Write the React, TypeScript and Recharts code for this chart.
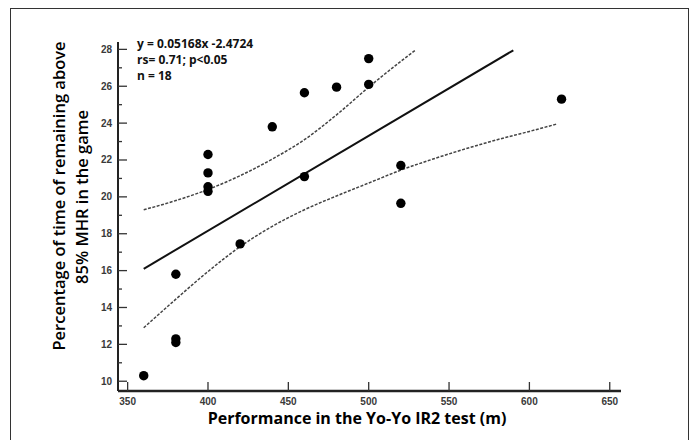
import { ScatterChart, Scatter, XAxis, YAxis } from 'recharts';

// Yo-Yo IR2 distance (m) vs % time above 85% MHR
const perfX = [400, 400, 400, 400, 440, 460, 460, 480, 500, 500, 520, 520, 620, 420, 380, 380, 380, 360];
const timeY = [22.3, 21.3, 20.55, 20.3, 23.8, 25.65, 21.1, 25.95, 27.5, 26.1, 21.7, 19.65, 25.3, 17.45, 15.8, 12.3, 12.1, 10.3];

// regression line
const fitX = [360, 590];
const fitY = [16.1, 27.95];

// confidence bands
const upperX = [360, 380, 400, 420, 440, 460, 480, 500, 520, 529];
const upperY = [19.3, 19.8, 20.4, 21.15, 22.05, 23.1, 24.45, 25.95, 27.35, 27.95];
const lowerX = [360, 380, 400, 420, 440, 460, 480, 500, 520, 540, 560, 580, 600, 617];
const lowerY = [12.9, 14.45, 15.95, 17.3, 18.4, 19.3, 20.05, 20.75, 21.45, 22.05, 22.6, 23.1, 23.55, 23.95];

const xTicks = [350, 400, 450, 500, 550, 600, 650];
const yTicks = [10, 12, 14, 16, 18, 20, 22, 24, 26, 28];
const yMinorTicks = [11, 13, 15, 17, 19, 21, 23, 25, 27];

const toPts = (xs: number[], ys: number[]) => xs.map((x, i) => ({ x, y: ys[i] }));

const points = toPts(perfX, timeY);
const fit = toPts(fitX, fitY);
const upper = toPts(upperX, upperY);
const lower = toPts(lowerX, lowerY);

const tickFont = { fontFamily: '"Liberation Sans", Arial, sans-serif', fontSize: 10, fontWeight: 700, fill: '#3a3a3a' };

const XTick = (props: any) => {
  const { x, y, payload } = props;
  return (
    <g>
      <line x1={x} x2={x} y1={y} y2={y - 9} stroke="#333" strokeWidth={1.3} />
      <text x={x} y={y + 14} textAnchor="middle" {...tickFont}>{payload.value}</text>
    </g>
  );
};

const YTick = (props: any) => {
  const { x, y, payload } = props;
  const minor = yMinorTicks.includes(payload.value);
  return (
    <g>
      <line x1={x} x2={x + (minor ? 4 : 9)} y1={y} y2={y} stroke="#333" strokeWidth={1.3} />
      {!minor && (
        <text x={x - 6} y={y} dy="0.35em" textAnchor="end" {...tickFont}>{payload.value}</text>
      )}
    </g>
  );
};

const Dot = (p: any) => <circle cx={p.cx} cy={p.cy} r={4.7} fill="#000" />;
const NoDot = () => <g />;

const band = { stroke: '#444', strokeWidth: 1.5, strokeDasharray: '3 1.5' };

export default function App() {
  return (
    <div style={{ position: 'absolute', left: 0, top: 0, width: 691, height: 440, background: '#fff', overflow: 'hidden' }}>
      <div style={{ position: 'absolute', left: 10, top: 8, width: 677, height: 440, border: '1.5px solid #333' }} />
      <ScatterChart width={691} height={440} margin={{ top: 42, right: 70, left: 58, bottom: 19 }}>
        <XAxis
          dataKey="x"
          type="number"
          domain={[344, 657]}
          allowDataOverflow
          ticks={xTicks}
          interval={0}
          tickSize={0}
          tickMargin={0}
          tickLine={false}
          tick={<XTick />}
          height={30}
          axisLine={{ stroke: '#222', strokeWidth: 2.5 }}
        />
        <YAxis
          dataKey="y"
          type="number"
          domain={[9.47, 28.4]}
          allowDataOverflow
          ticks={[...yTicks, ...yMinorTicks]}
          interval={0}
          tickSize={0}
          tickMargin={0}
          tickLine={false}
          tick={<YTick />}
          width={60}
          axisLine={{ stroke: '#222', strokeWidth: 2 }}
        />
        <Scatter data={upper} line={band} lineJointType="monotoneX" shape={<NoDot />} isAnimationActive={false} />
        <Scatter data={lower} line={band} lineJointType="monotoneX" shape={<NoDot />} isAnimationActive={false} />
        <Scatter data={fit} line={{ stroke: '#111', strokeWidth: 2 }} shape={<NoDot />} isAnimationActive={false} />
        <Scatter data={points} shape={<Dot />} isAnimationActive={false} />
      </ScatterChart>
      <svg width={691} height={440} style={{ position: 'absolute', left: 0, top: 0, pointerEvents: 'none' }}>
        <g style={{ fontFamily: '"Open Sans", sans-serif', fontWeight: 700, fontSize: 12, fill: '#111' }}>
          <text x={137} y={48}>y = 0.05168x -2.4724</text>
          <text x={137} y={64}>rs= 0.71; p&lt;0.05</text>
          <text x={137} y={80}>n = 18</text>
        </g>
        <g style={{ fontFamily: '"Open Sans", sans-serif', fontWeight: 600, fontSize: 16.5, fill: '#000' }}>
          <text transform="translate(65,196) rotate(-90)" textAnchor="middle">Percentage of time of remaining above</text>
          <text transform="translate(88,197) rotate(-90)" textAnchor="middle">85% MHR in the game</text>
        </g>
        <text x={357} y={424} textAnchor="middle" style={{ fontFamily: '"Open Sans", sans-serif', fontWeight: 700, fontSize: 16, fill: '#000' }}>
          Performance in the Yo-Yo IR2 test (m)
        </text>
      </svg>
    </div>
  );
}
